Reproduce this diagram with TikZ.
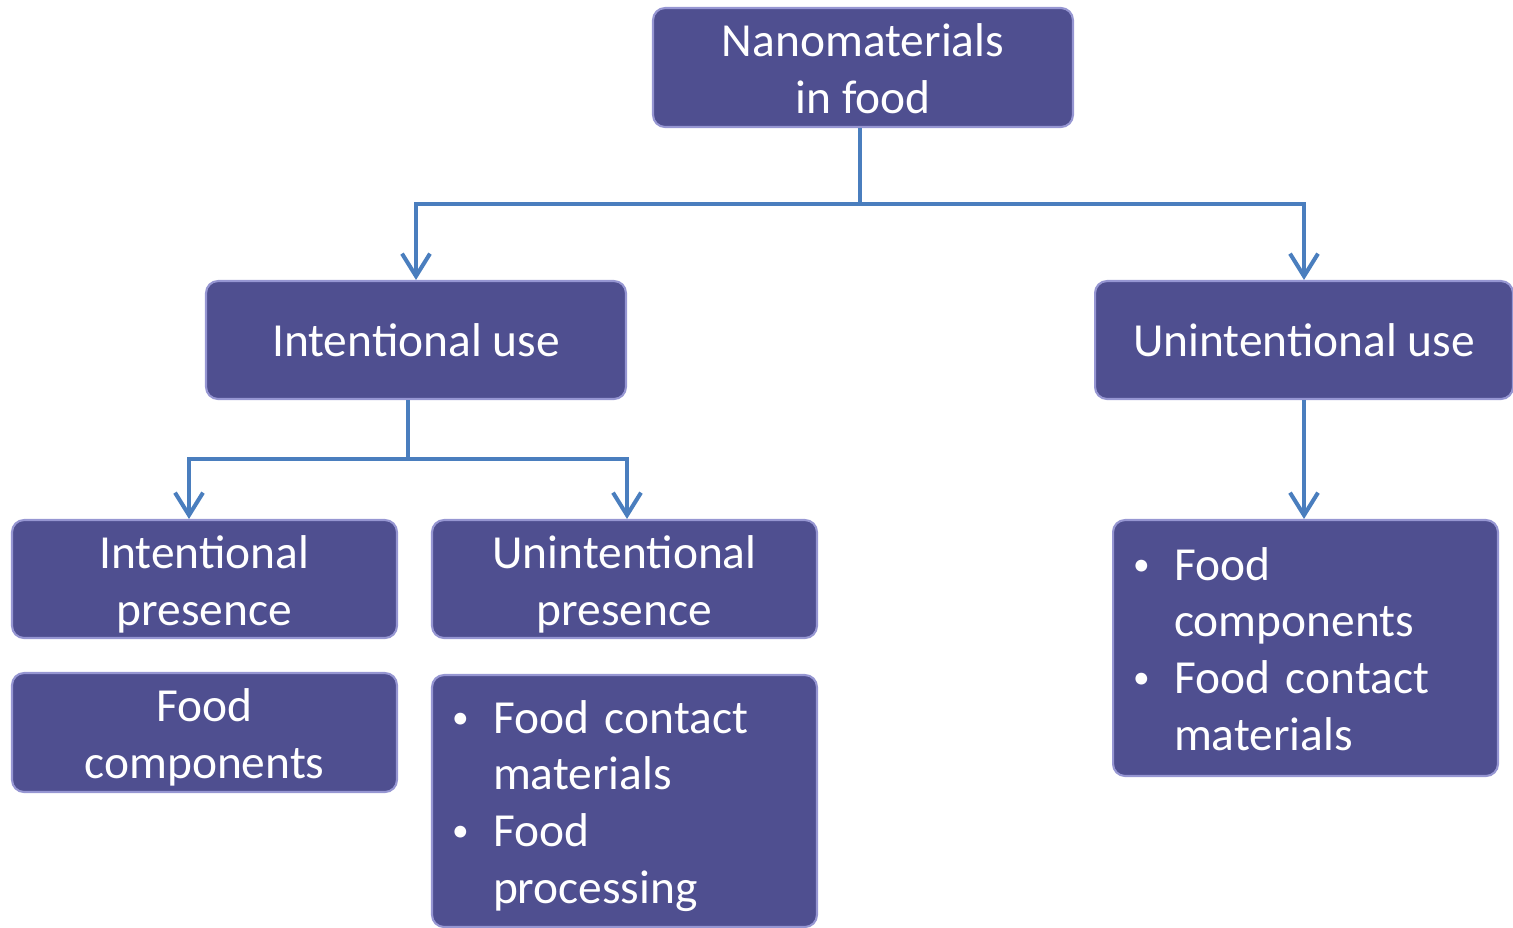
\documentclass[tikz,border=0pt]{standalone}
\usepackage{fontspec}
\setmainfont{Carlito}
\usepackage{tikz}
\usetikzlibrary{arrows.meta,positioning,calc}
\definecolor{boxfill}{RGB}{79,79,144}
\definecolor{boxedge}{RGB}{150,150,210}
\definecolor{linkblue}{RGB}{74,126,190}
\newcommand{\twoline}[2]{\raisebox{-9.8pt}[0pt][0pt]{\begin{tabular}{@{}c@{}}#1\\#2\end{tabular}}}
\newcommand{\blt}{\raisebox{0.1em}{\fontsize{19}{19}\selectfont\textbullet}}

\begin{document}
\begin{tikzpicture}[x=0.02cm, y=-0.02cm,
    catbox/.style={draw=boxedge, line width=1.2pt, fill=boxfill, rounded corners=0.24cm,
        text=white, align=center, font=\fontsize{27}{32.3}\selectfont, inner sep=0pt},
    listbox/.style={catbox, align=left, inner xsep=0.4cm, text width=6.9cm},
    link/.style={draw=linkblue, line width=2.3pt},
    tip/.style={-{Straight Barb[length=0.45cm, width=0.56cm]}}]
    \useasboundingbox (0, 0) rectangle (1513, 927);

    \node[catbox, minimum width=8.4cm, minimum height=2.38cm] (food) at (863, 67.5) {\twoline{Nanomaterials}{in food}};

    \node[catbox, minimum width=8.4cm, minimum height=2.36cm] (iuse) at (416, 340) {Intentional use};
    \node[catbox, minimum width=8.36cm, minimum height=2.36cm] (uuse) at (1304, 340) {Unintentional use};

    \node[catbox, minimum width=7.7cm, minimum height=2.36cm] (ipres) at (204.5, 579) {\twoline{Intentional}{presence}};
    \node[catbox, minimum width=7.7cm, minimum height=2.36cm] (upres) at (624.5, 579) {\twoline{Unintentional}{presence}};

    \node[catbox, minimum width=7.7cm, minimum height=2.38cm] (icomp) at (204.5, 732.5) {\twoline{Food}{components}};
    \node[listbox, minimum height=5.04cm] (ulist) at (624.5, 801) {%
        \raisebox{-9.5pt}[0pt][0pt]{\begin{tabular}{@{}p{0.82cm}@{}l@{}}
        \blt & Food contact\\
             & materials\\
        \blt & Food\\
             & processing
        \end{tabular}}};
    \node[listbox, minimum height=5.12cm] (rlist) at (1305.5, 648) {%
        \raisebox{-9.5pt}[0pt][0pt]{\begin{tabular}{@{}p{0.82cm}@{}l@{}}
        \blt & Food\\
             & components\\
        \blt & Food contact\\
             & materials
        \end{tabular}}};

    \draw[link, tip] ([xshift=-0.06cm]food.south) -- ++(0, 76) -| (iuse.north);
    \draw[link, tip] ([xshift=-0.06cm]food.south) -- ++(0, 76) -| (uuse.north);

    \draw[link, tip] ([xshift=-0.16cm]iuse.south) -- ++(0, 59) -| ([xshift=-0.31cm]ipres.north);
    \draw[link, tip] ([xshift=-0.16cm]iuse.south) -- ++(0, 59) -| ([xshift=0.05cm]upres.north);

    \draw[link, tip] (uuse.south) -- (uuse.south |- rlist.north);
\end{tikzpicture}
\end{document}
